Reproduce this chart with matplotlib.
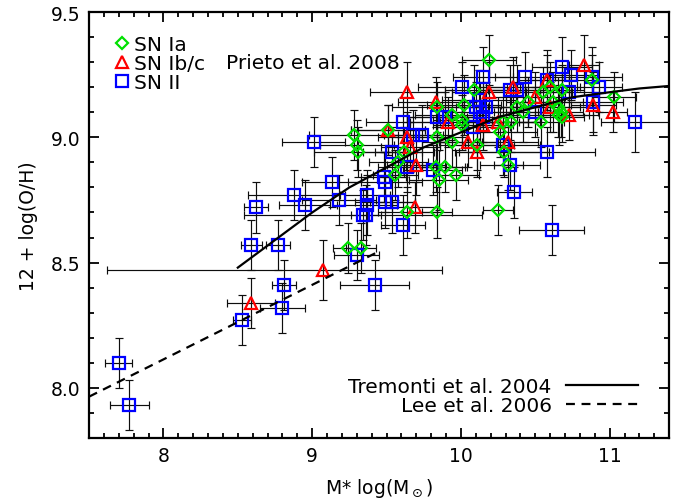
import matplotlib
matplotlib.use("Agg")
import matplotlib.pyplot as plt
from matplotlib.lines import Line2D
from matplotlib.ticker import MultipleLocator, FormatStrFormatter

plt.rcParams["font.family"] = ["DejaVu Sans"]
plt.rcParams["mathtext.fontset"] = "dejavusans"

# ---- data ----
# SN II (blue squares)
ii_x = [7.70, 7.77, 8.53, 8.81, 8.80, 8.59, 8.77, 8.62, 8.88, 8.95,
        9.01, 9.13, 9.18, 9.34, 9.36, 9.37, 9.37, 9.48, 9.49, 9.49,
        9.54, 9.54, 9.61, 9.64, 9.81, 9.61, 9.68, 9.74, 9.84, 10.01,
        10.15, 10.10, 10.13, 10.15, 10.17, 10.12, 10.33, 10.43, 10.28, 10.33,
        10.36, 10.58, 10.61, 10.50, 10.58, 10.68, 10.74, 10.73, 10.88, 10.93,
        10.89, 11.17, 9.30, 9.42, 9.89, 10.08, 10.38]
ii_y = [8.10, 7.93, 8.27, 8.41, 8.32, 8.57, 8.57, 8.72, 8.77, 8.73,
        8.98, 8.82, 8.75, 8.69, 8.69, 8.77, 8.73, 8.84, 8.82, 8.74,
        8.74, 8.94, 8.65, 8.88, 8.87, 9.06, 9.01, 9.01, 9.08, 9.20,
        9.24, 9.12, 9.10, 9.08, 9.12, 9.15, 9.19, 9.24, 8.97, 8.89,
        8.78, 8.94, 8.63, 9.10, 9.23, 9.28, 9.25, 9.18, 9.24, 9.20,
        9.14, 9.06, 8.53, 8.41, 9.08, 9.04, 9.19]
ii_xerr = [0.09, 0.13, 0.06, 0.08, 0.15, 0.07, 0.08, 0.08, 0.31, 0.17,
           0.21, 0.20, 0.25, 0.80, 0.10, 0.15, 0.20, 0.15, 0.25, 0.20,
           0.15, 0.20, 0.15, 0.20, 0.20, 0.25, 0.20, 0.20, 0.20, 0.30,
           0.20, 0.30, 0.25, 0.30, 0.20, 0.25, 0.20, 0.20, 0.25, 0.20,
           0.12, 0.32, 0.22, 0.20, 0.15, 0.20, 0.15, 0.20, 0.20, 0.15,
           0.20, 0.23, 0.15, 0.23, 0.25, 0.25, 0.20]
ii_yerr = [0.10, 0.10, 0.10, 0.10, 0.10, 0.10, 0.10, 0.10, 0.10, 0.10,
           0.10, 0.10, 0.10, 0.10, 0.12, 0.10, 0.12, 0.10, 0.12, 0.10,
           0.12, 0.10, 0.12, 0.10, 0.10, 0.10, 0.10, 0.12, 0.10, 0.10,
           0.12, 0.10, 0.12, 0.10, 0.10, 0.12, 0.10, 0.10, 0.12, 0.10,
           0.10, 0.10, 0.10, 0.10, 0.12, 0.12, 0.10, 0.10, 0.12, 0.10,
           0.12, 0.12, 0.10, 0.10, 0.10, 0.10, 0.10]

# SN Ia (green diamonds)
ia_x = [10.19, 10.09, 10.02, 9.84, 9.94, 10.01, 9.84, 9.94, 10.11, 9.51,
        9.28, 9.30, 9.31, 9.62, 9.58, 9.56, 9.83, 9.89, 9.85, 9.97,
        9.64, 9.84, 10.25, 9.24, 9.33, 10.29, 10.32, 10.28, 10.34, 10.38,
        10.42, 10.45, 10.54, 10.55, 10.60, 10.62, 10.68, 10.65, 10.67, 10.66,
        10.68, 10.88, 11.03, 10.01, 10.26]
ia_y = [9.31, 9.19, 9.13, 9.12, 9.09, 9.05, 9.00, 8.98, 8.97, 9.03,
        9.01, 8.97, 8.94, 8.94, 8.90, 8.85, 8.88, 8.88, 8.83, 8.85,
        8.70, 8.70, 8.71, 8.56, 8.56, 8.94, 8.89, 9.06, 9.06, 9.12,
        9.10, 9.14, 9.06, 9.18, 9.20, 9.14, 9.19, 9.12, 9.10, 9.09,
        9.08, 9.23, 9.16, 9.07, 9.02]
ia_xerr = [0.18, 0.20, 0.25, 0.30, 0.25, 0.20, 0.20, 0.20, 0.25, 0.25,
           0.30, 0.25, 0.30, 0.20, 0.20, 0.15, 0.20, 0.15, 0.20, 0.15,
           0.20, 0.10, 0.10, 0.10, 0.10, 0.30, 0.10, 0.25, 0.20, 0.20,
           0.20, 0.15, 0.15, 0.20, 0.20, 0.20, 0.15, 0.20, 0.15, 0.20,
           0.15, 0.15, 0.15, 0.20, 0.25]
ia_yerr = [0.10, 0.10, 0.12, 0.10, 0.10, 0.10, 0.12, 0.10, 0.10, 0.10,
           0.10, 0.10, 0.10, 0.10, 0.10, 0.10, 0.10, 0.10, 0.12, 0.10,
           0.10, 0.10, 0.10, 0.10, 0.10, 0.10, 0.10, 0.10, 0.12, 0.10,
           0.12, 0.10, 0.10, 0.10, 0.10, 0.12, 0.10, 0.12, 0.10, 0.12,
           0.10, 0.10, 0.10, 0.10, 0.10]

# SN Ib/c (red triangles)
ibc_x = [8.59, 9.07, 9.64, 9.83, 9.51, 9.64, 9.66, 9.70, 9.69, 9.91,
         10.05, 10.11, 10.15, 10.19, 10.25, 10.32, 10.35, 10.50, 10.58, 10.60,
         10.73, 10.83, 10.89, 11.02]
ibc_y = [8.34, 8.47, 9.18, 9.14, 9.03, 9.00, 8.96, 8.89, 8.72, 9.06,
         8.98, 8.94, 9.05, 9.18, 9.06, 8.98, 9.20, 9.16, 9.23, 9.12,
         9.09, 9.29, 9.13, 9.10]
ibc_xerr_lo = [0.16, 1.45, 0.25, 0.25, 0.25, 0.20, 0.20, 0.20, 0.15, 0.25,
               0.20, 0.15, 0.20, 0.25, 0.20, 0.20, 0.20, 0.20, 0.20, 0.20,
               0.20, 0.10, 0.15, 0.10]
ibc_xerr_hi = [0.16, 0.80, 0.25, 0.25, 0.25, 0.20, 0.20, 0.20, 0.15, 0.25,
               0.20, 0.15, 0.20, 0.25, 0.20, 0.20, 0.20, 0.20, 0.20, 0.20,
               0.20, 0.10, 0.15, 0.10]
ibc_yerr = [0.10, 0.12, 0.12, 0.10, 0.10, 0.10, 0.10, 0.12, 0.10, 0.10,
            0.10, 0.10, 0.10, 0.12, 0.10, 0.10, 0.12, 0.10, 0.10, 0.10,
            0.10, 0.12, 0.12, 0.08]

# Tremonti et al. 2004 relation (solid), Lee et al. 2006 (dashed)
trem_x = [8.50, 8.75, 9.00, 9.25, 9.50, 9.75, 10.00, 10.25, 10.50, 10.75, 11.00, 11.20, 11.40]
trem_y = [8.48, 8.59, 8.70, 8.80, 8.88, 8.96, 9.02, 9.08, 9.12, 9.16, 9.18, 9.195, 9.205]
lee_x = [7.50, 9.45]
lee_y = [7.965, 8.545]

GREEN, RED, BLUE = "#00e000", "#ff0000", "#0000ff"

fig = plt.figure(figsize=(6.8, 5.02), dpi=100)
ax = fig.add_axes([0.131, 0.1255, 0.853, 0.8485])

ebkw = dict(fmt="none", ecolor="0.05", elinewidth=0.85, capsize=2.6, capthick=0.85, zorder=2)
ax.errorbar(ii_x, ii_y, xerr=ii_xerr, yerr=ii_yerr, **ebkw)
ax.errorbar(ibc_x, ibc_y, xerr=[ibc_xerr_lo, ibc_xerr_hi], yerr=ibc_yerr, **ebkw)
ax.errorbar(ia_x, ia_y, xerr=ia_xerr, yerr=ia_yerr, **ebkw)

sq = dict(ls="none", marker="s", ms=8, mfc="none", mec=BLUE, mew=1.6)
tri = dict(ls="none", marker="^", ms=9, mfc="none", mec=RED, mew=1.6)
dia = dict(ls="none", marker="D", ms=6, mfc="none", mec=GREEN, mew=1.6)
ax.plot(ii_x, ii_y, zorder=3, **sq)
ax.plot(ibc_x, ibc_y, zorder=4, **tri)
ax.plot(ia_x, ia_y, zorder=5, **dia)

l1, = ax.plot(trem_x, trem_y, color="black", lw=1.6, zorder=6)
l2, = ax.plot(lee_x, lee_y, color="black", lw=1.6, ls=(0, (4, 3)), zorder=6)

ax.set_xlim(7.5, 11.4)
ax.set_ylim(7.8, 9.5)
ax.xaxis.set_major_locator(MultipleLocator(1))
ax.xaxis.set_minor_locator(MultipleLocator(0.1))
ax.yaxis.set_major_locator(MultipleLocator(0.5))
ax.yaxis.set_minor_locator(MultipleLocator(0.1))
ax.yaxis.set_major_formatter(FormatStrFormatter("%.1f"))
ax.tick_params(which="both", direction="in", top=True, right=True, width=1.3,
               labelsize=13.5, pad=6)
ax.tick_params(which="major", length=7)
ax.tick_params(which="minor", length=3.5)
for s in ax.spines.values():
    s.set_linewidth(1.6)

ax.set_xlabel("M* log(M$_\\odot$)", fontsize=13.5)
ax.set_ylabel("12 + log(O/H)", fontsize=13.5)
ax.xaxis.set_label_coords(0.5, -0.09)
ax.yaxis.set_label_coords(-0.088, 0.5)

# legend for SN types
h = [Line2D([], [], **dia), Line2D([], [], **tri), Line2D([], [], **sq)]
leg1 = ax.legend(h, ["SN Ia", "SN Ib/c", "SN II"], loc="upper left",
                 bbox_to_anchor=(0.043, 0.947), frameon=False, fontsize=14.5,
                 handlelength=0.75, handletextpad=0.22, labelspacing=0.0,
                 borderpad=0, borderaxespad=0)
ax.add_artist(leg1)
ax.text(8.42, 9.30, "Prieto et al. 2008", fontsize=14.5, va="center", ha="left")

ax.legend([l1, l2], ["Tremonti et al. 2004", "Lee et al. 2006"], loc="lower right",
          bbox_to_anchor=(0.947, 0.053), frameon=False, fontsize=14.5,
          markerfirst=False, handlelength=3.6, handletextpad=0.7,
          labelspacing=0.0, borderpad=0, borderaxespad=0)

fig.savefig("out.png", dpi=100)
